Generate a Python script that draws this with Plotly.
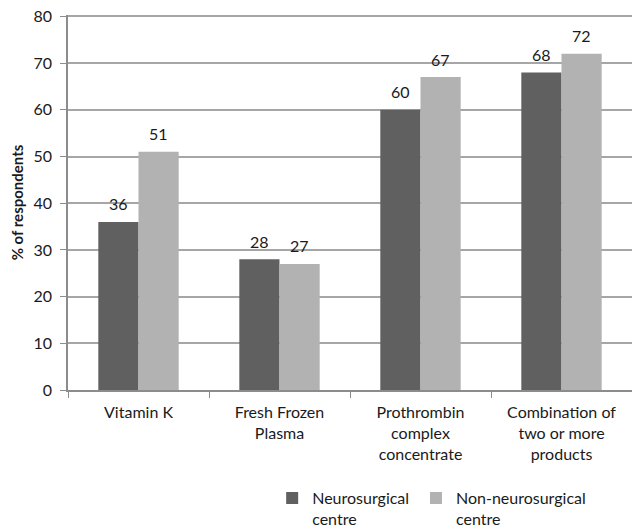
import plotly.graph_objects as go

categories = ["Vitamin K", "Fresh Frozen<br>Plasma", "Prothrombin<br>complex<br>concentrate",
              "Combination of<br>two or more<br>products"]
neuro = [36, 28, 60, 68]
non_neuro = [51, 27, 67, 72]
series_names = ["Neurosurgical<br>centre", "Non-neurosurgical<br>centre"]
y_ticks = [0, 10, 20, 30, 40, 50, 60, 70, 80]

FONT = "Lato"
TXT = "#1a1a1a"
SIZE = 16

fig = go.Figure()
fig.add_trace(go.Bar(x=categories, y=neuro, name=series_names[0], marker_color="#606060",
                     marker_line_width=0, offsetgroup="a", legend="legend"))
fig.add_trace(go.Bar(x=categories, y=non_neuro, name=series_names[1], marker_color="#b2b2b2",
                     marker_line_width=0, offsetgroup="b", legend="legend2"))

# value labels, placed through the axis scales (bars are offset by a fixed fraction of a category)
bargap = 0.43
half = (1 - bargap) / 4
for i, (a, b) in enumerate(zip(neuro, non_neuro)):
    fig.add_annotation(x=i - half, y=a, text=str(a), showarrow=False, yanchor="middle",
                       yshift=18, font=dict(size=SIZE, family=FONT, color=TXT))
    fig.add_annotation(x=i + half, y=b, text=str(b), showarrow=False, yanchor="middle",
                       yshift=18, font=dict(size=SIZE, family=FONT, color=TXT))

legend_common = dict(orientation="h", xanchor="left", y=-0.243, yanchor="top",
                     valign="top", font=dict(size=SIZE, family=FONT, color=TXT),
                     bgcolor="rgba(0,0,0,0)")

fig.update_layout(
    width=632, height=528,
    margin=dict(l=68, r=0, t=15, b=138, autoexpand=False),
    paper_bgcolor="white", plot_bgcolor="white",
    barmode="group", bargap=bargap, bargroupgap=0,
    font=dict(family=FONT, size=SIZE, color=TXT),
    showlegend=True,
    legend=dict(x=0.362, **legend_common),
    legend2=dict(x=0.617, **legend_common),
    xaxis=dict(showline=True, linecolor="#8c8c8c", linewidth=1.5, automargin=False,
               ticks="outside", tickson="boundaries", ticklen=6, tickcolor="#8c8c8c",
               ticklabelstandoff=7,
               tickfont=dict(size=SIZE, family=FONT, color=TXT), showgrid=False),
    yaxis=dict(range=[0, 80.3], tickvals=y_ticks, showline=True, linecolor="#8c8c8c",
               linewidth=1.5, ticks="outside", ticklen=6, tickcolor="#8c8c8c",
               ticklabelstandoff=5,
               showgrid=True, gridcolor="#a6a6a6", gridwidth=1.5, automargin=False,
               zeroline=False,
               tickfont=dict(size=SIZE, family=FONT, color=TXT),
               title=dict(text="<b>% of respondents</b>", font=dict(size=15, family=FONT, color=TXT),
                          standoff=6)),
)

fig.write_html("out.html", config={"displayModeBar": False},
               post_script="document.body.style.margin='0px';document.body.style.overflow='hidden';")
